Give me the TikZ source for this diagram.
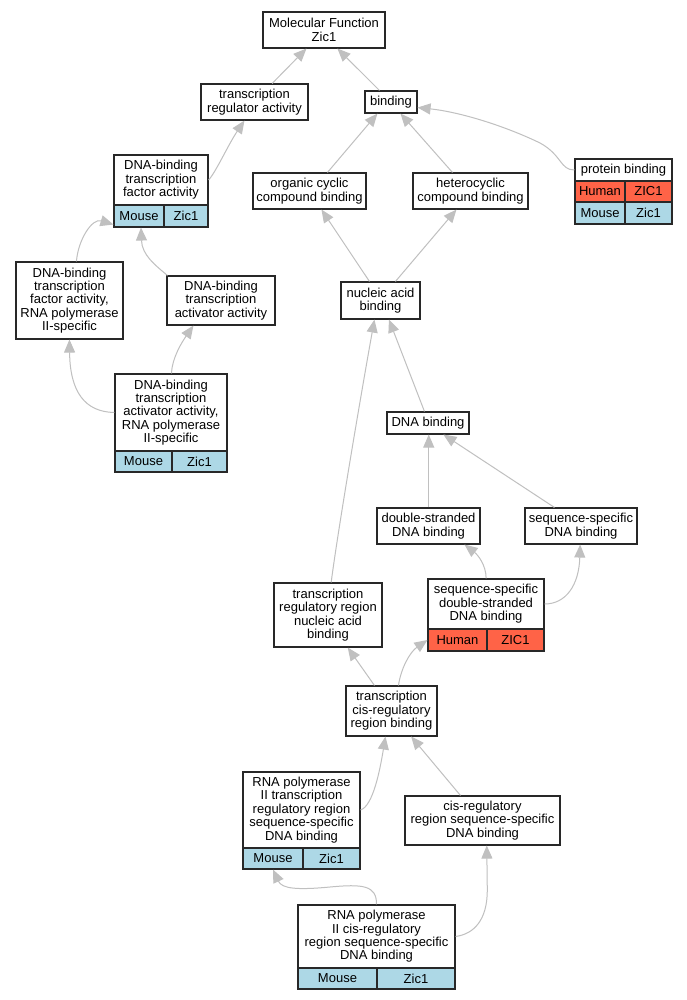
\documentclass[tikz,border=0pt]{standalone}
\usepackage{fontspec}
\setmainfont{Liberation Sans}
\usetikzlibrary{arrows.meta,calc}
\definecolor{edgegray}{RGB}{192,192,192}
\definecolor{humanred}{RGB}{255,99,71}
\definecolor{mouseblue}{RGB}{173,216,230}
\definecolor{boxline}{RGB}{40,40,40}
\begin{document}
\begin{tikzpicture}[x=1pt,y=-1pt,
  every node/.style={font=\fontsize{13}{13.4}\selectfont},
  gobox/.style={draw=boxline, line width=1.1pt, fill=white, rectangle, inner sep=0pt, align=center},
  mouse/.style={gobox, fill=mouseblue},
  human/.style={gobox, fill=humanred},
  edge/.style={draw=edgegray, line width=1pt, -{Triangle[length=13pt,width=11pt,fill=edgegray]}}
]
\fill[white] (0,0) rectangle (687,1000);
\useasboundingbox (0,0) rectangle (687,1000);

% nodes
\node[gobox, minimum width=122pt, minimum height=36pt] (mf) at (324,30) {Molecular Function\\Zic1};
\node[gobox, minimum width=107pt, minimum height=36pt] (tra) at (254.5,102) {transcription\\regulator activity};
\node[gobox, minimum width=52pt, minimum height=22pt] (bind) at (391,102) {binding};

\node[gobox, minimum width=94pt, minimum height=50pt] (dbtfa) at (161,180) {DNA-binding\\transcription\\factor activity};
\node[mouse, minimum width=50pt, minimum height=22pt] (dbtfa-m) at (139,216) {Mouse};
\node[mouse, minimum width=44pt, minimum height=22pt] (dbtfa-z) at (186,216) {Zic1};

\node[gobox, minimum width=113pt, minimum height=36pt] (occb) at (309.5,191) {organic cyclic\\compound binding};
\node[gobox, minimum width=115pt, minimum height=36pt] (hccb) at (470.5,191) {heterocyclic\\compound binding};

\node[gobox, minimum width=97pt, minimum height=22pt] (pb) at (623.5,170) {protein binding};
\node[human, minimum width=50pt, minimum height=21pt] (pb-h) at (600,191.5) {Human};
\node[human, minimum width=47pt, minimum height=21pt] (pb-hz) at (648.5,191.5) {ZIC1};
\node[mouse, minimum width=50pt, minimum height=22pt] (pb-m) at (600,213) {Mouse};
\node[mouse, minimum width=47pt, minimum height=22pt] (pb-mz) at (648.5,213) {Zic1};

\node[gobox, minimum width=107pt, minimum height=77pt] (dbtfarna) at (69.5,300.5) {DNA-binding\\transcription\\factor activity,\\RNA polymerase\\II-specific};
\node[gobox, minimum width=108pt, minimum height=49pt] (dbtaa) at (221,300.5) {DNA-binding\\transcription\\activator activity};

\node[gobox, minimum width=112pt, minimum height=77pt] (dbtaarna) at (171,412.5) {DNA-binding\\transcription\\activator activity,\\RNA polymerase\\II-specific};
\node[mouse, minimum width=57pt, minimum height=21pt] (dbtaarna-m) at (143.5,461.5) {Mouse};
\node[mouse, minimum width=55pt, minimum height=21pt] (dbtaarna-z) at (199.5,461.5) {Zic1};

\node[gobox, minimum width=79pt, minimum height=37pt] (nab) at (380.5,300.5) {nucleic acid\\binding};
\node[gobox, minimum width=82pt, minimum height=22pt] (dnab) at (428,423) {DNA binding};
\node[gobox, minimum width=103pt, minimum height=36pt] (dsdb) at (428.5,526) {double-stranded\\DNA binding};
\node[gobox, minimum width=112pt, minimum height=36pt] (ssdb) at (581,526) {sequence-specific\\DNA binding};

\node[gobox, minimum width=108pt, minimum height=64pt] (trrnab) at (328,615) {transcription\\regulatory region\\nucleic acid\\binding};

\node[gobox, minimum width=116pt, minimum height=50pt] (ssds) at (486,604) {sequence-specific\\double-stranded\\DNA binding};
\node[human, minimum width=59pt, minimum height=22pt] (ssds-h) at (457.5,640) {Human};
\node[human, minimum width=57pt, minimum height=22pt] (ssds-z) at (515.5,640) {ZIC1};

\node[gobox, minimum width=91pt, minimum height=50pt] (tcrb) at (391.5,711) {transcription\\cis-regulatory\\region binding};

\node[gobox, minimum width=117pt, minimum height=76pt] (rnatrr) at (301.5,810) {RNA polymerase\\II transcription\\regulatory region\\sequence-specific\\DNA binding};
\node[mouse, minimum width=60pt, minimum height=21pt] (rnatrr-m) at (273,858.5) {Mouse};
\node[mouse, minimum width=57pt, minimum height=21pt] (rnatrr-z) at (331.5,858.5) {Zic1};

\node[gobox, minimum width=155pt, minimum height=49pt] (crss) at (482.5,820.5) {cis-regulatory\\region sequence-specific\\DNA binding};

\node[gobox, minimum width=157pt, minimum height=63pt] (rnacr) at (376.5,936.5) {RNA polymerase\\II cis-regulatory\\region sequence-specific\\DNA binding};
\node[mouse, minimum width=79pt, minimum height=21pt] (rnacr-m) at (337.5,978.5) {Mouse};
\node[mouse, minimum width=78pt, minimum height=21pt] (rnacr-z) at (416,978.5) {Zic1};

% edges
\draw[edge] ($(tra.north west)+(71.7,0)$) -- ($(mf.south west)+(44,0)$);
\draw[edge] ($(bind.north west)+(15,0)$) -- ($(mf.south west)+(75,0)$);
\draw[edge] (dbtfa.east) .. controls (216,172) and (228,145) .. ($(tra.south west)+(44,0)$);
\draw[edge] ($(occb.north west)+(75,0)$) -- ($(bind.south west)+(13,0)$);
\draw[edge] ($(hccb.north west)+(40,0)$) -- ($(bind.south west)+(36,0)$);
\draw[edge] (pb.west) .. controls (560,170) and (562,155) .. (540,143) .. controls (505,126) and (460,112) .. ($(bind.south east)+(0,-6)$);
\draw[edge] ($(nab.north west)+(29,0)$) -- ($(occb.south west)+(69,0)$);
\draw[edge] ($(nab.north west)+(55,0)$) -- ($(hccb.south west)+(44,0)$);
\draw[edge] ($(dbtfarna.north west)+(61,0)$) .. controls (78,240) and (92,218) .. ($(dbtfa-m.south west)+(0,-3)$);
\draw[edge] ($(dbtaa.north west)+(1,0)$) .. controls (155,265) and (142,255) .. ($(dbtfa-m.south)+(2,0)$);
\draw[edge] (dbtaarna.west) .. controls (85,412) and (70,392) .. ($(dbtfarna.south west)+(54,0)$);
\draw[edge] ($(dbtaarna.north west)+(57,0)$) .. controls (172,358) and (182,342) .. ($(dbtaa.south west)+(27,0)$);
\draw[edge] ($(dnab.north west)+(38,0)$) -- ($(nab.south west)+(48.5,0)$);
\draw[edge] ($(trrnab.north west)+(57.7,0)$) .. controls (338,530) and (360,400) .. ($(nab.south west)+(34,0)$);
\draw[edge] ($(dsdb.north west)+(52.3,0)$) -- ($(dnab.south west)+(42.3,0)$);
\draw[edge] ($(ssdb.north west)+(30,0)$) -- ($(dnab.south west)+(57,0)$);
\draw[edge] ($(ssds.north west)+(58.7,0)$) .. controls (486,565) and (478,555) .. ($(dsdb.south west)+(88,0)$);
\draw[edge] (ssds.east) .. controls (566,604) and (579,585) .. ($(ssdb.south west)+(55.7,0)$);
\draw[edge] ($(tcrb.north west)+(29,0)$) -- ($(trrnab.south west)+(74.3,0)$);
\draw[edge] ($(tcrb.north west)+(53,0)$) .. controls (401,668) and (410,652) .. (ssds-h.west);
\draw[edge] (rnatrr.east) .. controls (373,806) and (380,770) .. ($(tcrb.south west)+(40,0)$);
\draw[edge] ($(crss.north west)+(56,0)$) -- ($(tcrb.south west)+(65.7,0)$);
\draw[edge] ($(rnacr.north west)+(79,0)$) .. controls (377,885) and (362,884) .. (330,887) .. controls (298,890) and (282,889) .. (rnatrr-m.south);
\draw[edge] (rnacr.east) .. controls (474,934) and (487.3,920) .. (487.3,890) -- ($(crss.south west)+(82.3,0)$);
\end{tikzpicture}
\end{document}
